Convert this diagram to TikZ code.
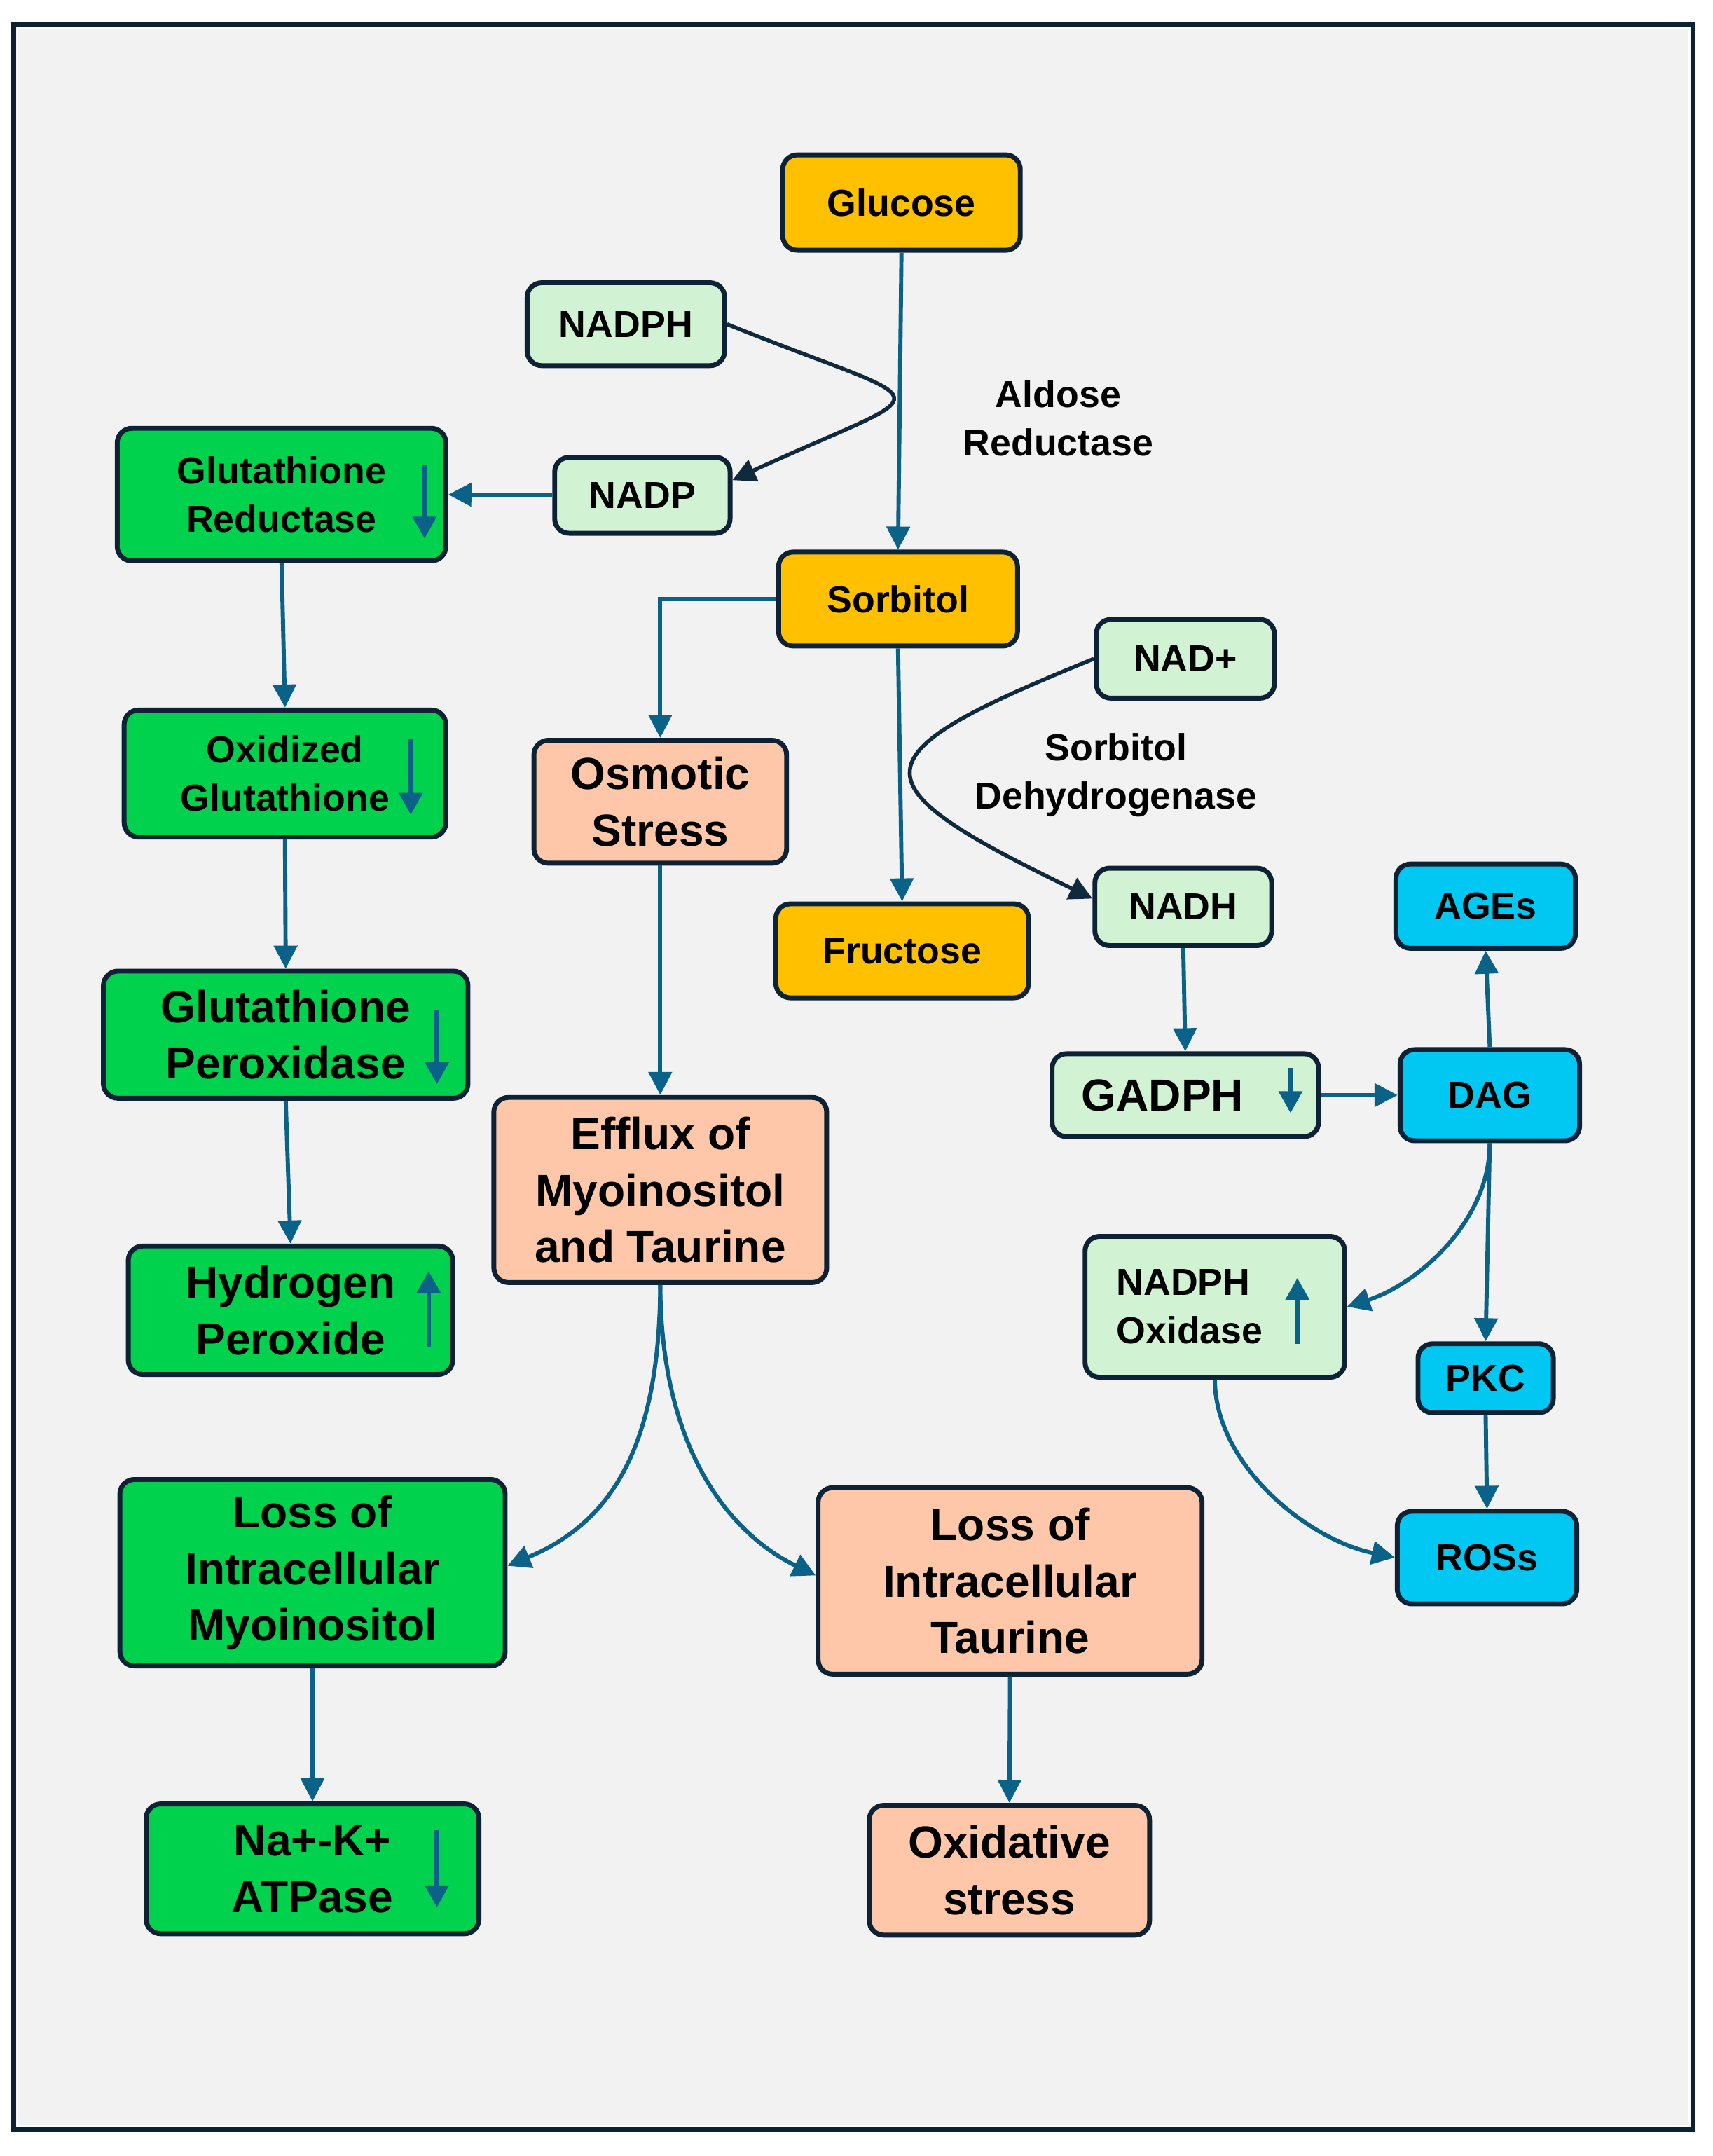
\documentclass[tikz,border=0pt]{standalone}
\usepackage{fontspec}
\setmainfont{Liberation Sans}
\usetikzlibrary{arrows.meta,calc}
\definecolor{cOrange}{HTML}{FFC000}
\definecolor{cLight}{HTML}{D1F3D3}
\definecolor{cGreen}{HTML}{00D24E}
\definecolor{cSalmon}{HTML}{FFC7AA}
\definecolor{cCyan}{HTML}{00C8F2}
\definecolor{cEdge}{HTML}{0E2236}
\definecolor{cTeal}{HTML}{0A6288}
\definecolor{cDark}{HTML}{0E2A3C}
\definecolor{cBg}{HTML}{F2F2F2}
\definecolor{cFrame}{HTML}{0B2233}
\begin{document}
\begin{tikzpicture}[x=0.02cm,y=-0.02cm,
  box/.style={draw=cEdge, line width=2pt, rounded corners=6pt, align=center, inner sep=0pt,
    font=\bfseries\fontsize{15.5}{19.8}\selectfont},
  big/.style={font=\bfseries\fontsize{18.5}{23.3}\selectfont},
  wh/.style 2 args={minimum width=#1*0.02cm, minimum height=#2*0.02cm},
  conn/.style={draw=cTeal, line width=1.7pt, -{Triangle[length=9.5pt,width=9.5pt]}},
  dconn/.style={draw=cDark, line width=1.6pt, -{Triangle[length=9.5pt,width=9.5pt]}},
  ind/.style={draw=cTeal, line width=1.9pt, -{Triangle[length=9pt,width=9.5pt]}},
  lab/.style={align=center, inner sep=0pt, font=\bfseries\fontsize{15.5}{19.8}\selectfont}
]
\useasboundingbox (0,0) rectangle (1240,1561);
\fill[white] (0,0) rectangle (1240,1561);
\draw[fill=cBg, draw=cFrame, line width=2pt] (9.8,17.8) rectangle (1226,1542);
\draw[white, line width=0.7pt] (12.6,20.6) rectangle (1223.2,1539.2);

\begin{scope}[shift={(-0.15,-0.1)}, xscale=0.9953, yscale=0.995]
% nodes
\node[box, fill=cOrange, wh={172}{69}] (glu) at (656,147.5) {Glucose};
\node[box, fill=cLight, wh={143}{60}] (nadph) at (455.5,236) {NADPH};
\node[box, fill=cGreen, wh={238}{96}] (gr) at (205,360) {Glutathione\\Reductase};
\node[box, fill=cLight, wh={127}{55}] (nadp) at (467.5,360.5) {NADP};
\node[box, fill=cOrange, wh={173}{68}] (sor) at (653.5,436) {Sorbitol};
\node[box, fill=cLight, wh={129}{57}] (nad) at (862.5,479.5) {NAD+};
\node[box, fill=cGreen, wh={233}{92}] (og) at (207.5,563) {Oxidized\\Glutathione};
\node[box, big, fill=cSalmon, wh={183}{89}] (osm) at (480.5,583.5) {Osmotic\\Stress};
\node[box, fill=cOrange, wh={183}{68}] (fru) at (656.5,692) {Fructose};
\node[box, fill=cLight, wh={128}{56}] (nadh) at (861,660) {NADH};
\node[box, fill=cCyan, wh={130}{61}] (ages) at (1081,659.5) {AGEs};
\node[box, big, fill=cGreen, wh={264}{92}] (gp) at (208,753) {Glutathione\\Peroxidase};
\node[box, fill=cLight, wh={193}{60}] (gadph) at (862.5,797) {};
\node[lab, font=\bfseries\fontsize{18.5}{23.3}\selectfont] (gadpht) at (846,797) {GADPH};
\node[box, fill=cCyan, wh={130}{66}] (dag) at (1084,797) {DAG};
\node[box, big, fill=cSalmon, wh={241}{134}] (eff) at (480.5,866) {Efflux of\\Myoinositol\\and Taurine};
\node[box, big, fill=cGreen, wh={235}{93}] (hp) at (211.5,953.5) {Hydrogen\\Peroxide};
\node[box, fill=cLight, wh={188}{102}] (nox) at (884,951) {};
\node[lab, align=left, anchor=west] (noxt) at (812,951) {NADPH\\Oxidase};
\node[box, fill=cCyan, wh={98}{50}] (pkc) at (1081,1003) {PKC};
\node[box, fill=cCyan, wh={130}{67}] (ros) at (1082,1133.5) {ROSs};
\node[box, big, fill=cGreen, wh={279}{135}] (lim) at (227.5,1144.5) {Loss of\\Intracellular\\Myoinositol};
\node[box, big, fill=cSalmon, wh={278}{135}] (lit) at (735,1150.5) {Loss of\\Intracellular\\Taurine};
\node[box, big, fill=cGreen, wh={241}{94}] (nak) at (227.5,1360) {Na+-K+\\ATPase};
\node[box, big, fill=cSalmon, wh={203}{94}] (ox) at (734.5,1361) {Oxidative\\stress};
\node[lab] (ar) at (770,304.5) {Aldose\\Reductase};
\node[lab] (sdh) at (812,564) {Sorbitol\\Dehydrogenase};

% indicator arrows inside boxes
\draw[ind] (309,338) -- (309,392);
\draw[ind] (299,538) -- (299,593);
\draw[ind] (318,735) -- (318,789);
\draw[ind] (312,980) -- (312,925);
\draw[ind] (939,777) -- (939,810);
\draw[ind] (944,978) -- (944,930);
\draw[ind] (318,1332) -- (318,1388);

% connectors
\draw[conn] (glu.south) -- (sor.north);
\draw[dconn] (nadph.east) .. controls (688,300) and (688,278) .. ($(nadp.east)+(0,-11)$);
\draw[conn] (nadp.west) -- (gr.east);
\draw[conn] (gr.south) -- (og.north);
\draw[conn] (og.south) -- (gp.north);
\draw[conn] (gp.south) -- (hp.north);
\draw[conn] (sor.west) -| (osm.north);
\draw[conn] (sor.south) -- (fru.north);
\draw[dconn] (nad.west) .. controls (620,551) and (620,569) .. ($(nadh.west)+(0,-6)$);
\draw[conn] (nadh.south) -- (gadph.north);
\draw[conn] (gadph.east) -- (dag.west);
\draw[conn] (dag.north) -- (ages.south);
\draw[conn] (dag.south) -- (pkc.north);
\draw[conn] (dag.south) .. controls (1084,890) and (1030,935) .. (nox.east);
\draw[conn] (pkc.south) -- (ros.north);
\draw[conn] (nox.south) .. controls (884,1065) and (950,1120) .. (ros.west);
\draw[conn] (osm.south) -- (eff.north);
\draw[conn] (eff.south) .. controls (480,1060) and (440,1110) .. ($(lim.east)+(0,-5)$);
\draw[conn] (eff.south) .. controls (481,1060) and (535,1118) .. ($(lit.west)+(0,-4)$);
\draw[conn] (lim.south) -- (nak.north);
\draw[conn] (lit.south) -- (ox.north);
\end{scope}
\end{tikzpicture}
\end{document}
